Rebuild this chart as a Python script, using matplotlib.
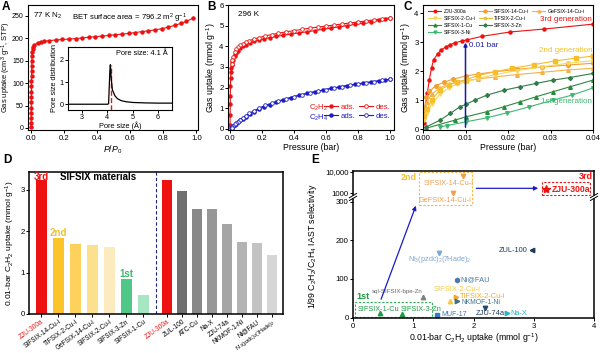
import numpy as np
import matplotlib
matplotlib.use("Agg")
import matplotlib.pyplot as plt
from matplotlib.lines import Line2D
from matplotlib.patches import Rectangle


# FONTS / STYLE

plt.rcParams["font.family"] = ["Liberation Sans", "DejaVu Sans"]
plt.rcParams["mathtext.fontset"] = "custom"
plt.rcParams["mathtext.rm"] = "Liberation Sans"
plt.rcParams["mathtext.it"] = "Liberation Sans:italic"
plt.rcParams["mathtext.bf"] = "Liberation Sans:bold"
plt.rcParams["font.size"] = 6
plt.rcParams["axes.linewidth"] = 0.8
plt.rcParams["xtick.major.size"] = 2
plt.rcParams["ytick.major.size"] = 2
plt.rcParams["xtick.major.width"] = 0.7
plt.rcParams["ytick.major.width"] = 0.7
plt.rcParams["xtick.major.pad"] = 1.5
plt.rcParams["ytick.major.pad"] = 1.2
plt.rcParams["xtick.labelsize"] = 5.6
plt.rcParams["ytick.labelsize"] = 5.6


# A: N2 ISOTHERM 77 K

a_p = [0.001, 0.001, 0.0015, 0.0015, 0.002, 0.002, 0.0025, 0.0025, 0.003, 0.003,
       0.0035, 0.004, 0.0045, 0.005, 0.006, 0.008, 0.011, 0.015, 0.02, 0.04,
       0.06, 0.08, 0.11, 0.15, 0.19, 0.23, 0.27, 0.31, 0.35, 0.39,
       0.43, 0.47, 0.51, 0.55, 0.59, 0.63, 0.67, 0.71, 0.75, 0.79,
       0.83, 0.87, 0.91, 0.94, 0.98]
a_n2 = [3, 12, 22, 33, 45, 57, 69, 81, 93, 105,
        117, 128, 139, 150, 160, 169, 176, 181, 185, 190,
        192, 193.5, 195, 196.5, 197.5, 198.5, 199.5, 201, 202.5, 204,
        205, 206.5, 208, 209.5, 211, 213, 215, 217, 219, 221.5,
        225, 229, 234, 238, 245]

psd_x = [2.45, 3.5, 4.0, 4.05, 4.08, 4.1, 4.12, 4.15, 4.2, 4.3, 4.4, 4.55, 4.75, 5.0, 5.5, 6.0, 6.55]
psd_y = [0.0, 0.0, 0.0, 0.02, 0.9, 1.5, 1.78, 1.2, 0.65, 0.38, 0.25, 0.16, 0.11, 0.08, 0.06, 0.05, 0.05]
pore_size = 4.13

# B: C2H2 / C2H4 ISOTHERMS 296 K

b_p_ads = [0.0005, 0.001, 0.0015, 0.002, 0.003, 0.004, 0.006, 0.008, 0.011, 0.015,
           0.02, 0.03, 0.04, 0.05, 0.065, 0.08, 0.1, 0.125, 0.15, 0.18,
           0.21, 0.25, 0.29, 0.33, 0.38, 0.43, 0.48, 0.53, 0.58, 0.63,
           0.68, 0.73, 0.78, 0.83, 0.88, 0.93, 0.97, 1.0]
b_c2h2_ads = [0.2, 0.7, 1.2, 1.6, 2.1, 2.45, 2.75, 2.95, 3.1, 3.25,
              3.35, 3.55, 3.68, 3.78, 3.9, 4.0, 4.08, 4.17, 4.24, 4.3,
              4.36, 4.42, 4.48, 4.53, 4.59, 4.65, 4.7, 4.76, 4.82, 4.88,
              4.94, 5.0, 5.06, 5.12, 5.18, 5.25, 5.3, 5.35]
b_p_des = [1.0, 0.95, 0.9, 0.85, 0.8, 0.75, 0.7, 0.65, 0.6, 0.55,
           0.5, 0.45, 0.4, 0.35, 0.3, 0.26, 0.22, 0.18, 0.15, 0.12,
           0.1, 0.08, 0.065, 0.05, 0.04, 0.03, 0.02, 0.015, 0.01]
b_c2h2_des = [5.38, 5.33, 5.28, 5.23, 5.18, 5.13, 5.08, 5.03, 4.98, 4.93,
              4.88, 4.82, 4.76, 4.7, 4.63, 4.57, 4.5, 4.42, 4.35, 4.27,
              4.2, 4.12, 4.05, 3.95, 3.85, 3.72, 3.5, 3.35, 3.15]
b_p_c2h4 = [0.005, 0.01, 0.02, 0.03, 0.04, 0.05, 0.065, 0.08, 0.1, 0.125,
            0.15, 0.18, 0.21, 0.25, 0.29, 0.33, 0.38, 0.43, 0.48, 0.53,
            0.58, 0.63, 0.68, 0.73, 0.78, 0.83, 0.88, 0.93, 0.97, 1.0]
b_c2h4_ads = [0.03, 0.06, 0.13, 0.2, 0.26, 0.32, 0.41, 0.5, 0.6, 0.72,
              0.83, 0.95, 1.06, 1.18, 1.3, 1.4, 1.52, 1.62, 1.72, 1.8,
              1.88, 1.96, 2.03, 2.1, 2.16, 2.22, 2.28, 2.33, 2.37, 2.4]
b_c2h4_des = [2.41, 2.35, 2.29, 2.23, 2.17, 2.11, 2.05, 1.98, 1.91, 1.83,
              1.75, 1.66, 1.57, 1.46, 1.35, 1.25, 1.14, 1.0, 0.88, 0.75,
              0.65, 0.55, 0.45, 0.36, 0.29, 0.22, 0.15, 0.11, 0.07]

# C: LOW PRESSURE C2H2 ISOTHERMS

zju_p = [0.0002, 0.0006, 0.001, 0.0015, 0.002, 0.0025, 0.0035, 0.0042, 0.0053, 0.0064,
         0.0076, 0.0092, 0.0104, 0.0139, 0.0205, 0.0284, 0.04]
zju_v = [0.2, 0.7, 1.25, 1.7, 2.1, 2.4, 2.6, 2.72, 2.83, 2.91,
         2.98, 3.04, 3.08, 3.2, 3.35, 3.45, 3.62]
sifsix14_p = [0.0003, 0.0008, 0.0015, 0.003, 0.005, 0.007, 0.01, 0.013, 0.017, 0.022, 0.028, 0.034, 0.04]
sifsix14_v = [0.7, 1.1, 1.3, 1.5, 1.62, 1.72, 1.83, 1.9, 1.98, 2.06, 2.14, 2.21, 2.27]
gefsix14_p = [0.0003, 0.001, 0.002, 0.004, 0.006, 0.008, 0.01, 0.013, 0.017, 0.022, 0.028, 0.034, 0.04]
gefsix14_v = [0.6, 0.95, 1.2, 1.42, 1.55, 1.62, 1.67, 1.73, 1.8, 1.88, 1.96, 2.04, 2.10]
sifsix2_p = [0.0003, 0.001, 0.002, 0.004, 0.006, 0.008, 0.01, 0.013, 0.017, 0.022, 0.028, 0.034, 0.04]
sifsix2_v = [0.3, 0.55, 0.85, 1.2, 1.42, 1.55, 1.62, 1.75, 1.88, 2.02, 2.15, 2.27, 2.36]
tifsix2_p = [0.0003, 0.001, 0.002, 0.004, 0.006, 0.008, 0.01, 0.013, 0.017, 0.021, 0.026, 0.031, 0.036, 0.04]
tifsix2_v = [0.45, 0.7, 1.0, 1.35, 1.52, 1.63, 1.70, 1.85, 1.98, 2.1, 2.22, 2.35, 2.45, 2.52]
sifsix1_p = [0.0007, 0.0075, 0.01, 0.015, 0.019, 0.0228, 0.0267, 0.0306, 0.0346, 0.04]
sifsix1_v = [0.03, 0.31, 0.42, 0.6, 0.77, 0.94, 1.12, 1.29, 1.46, 1.69]
sifsix3zn_p = [0.0007, 0.004, 0.0064, 0.0087, 0.01, 0.0122, 0.015, 0.019, 0.0228, 0.0267, 0.0306, 0.0346, 0.04]
sifsix3zn_v = [0.07, 0.31, 0.54, 0.77, 0.85, 1.0, 1.17, 1.34, 1.46, 1.58, 1.69, 1.78, 1.92]
sifsix3ni_p = [0.004, 0.0056, 0.01, 0.015, 0.0197, 0.025, 0.0306, 0.035, 0.04]
sifsix3ni_v = [0.08, 0.12, 0.25, 0.39, 0.56, 0.77, 1.0, 1.17, 1.42]

# D: 0.01 BAR UPTAKE BARS

d_left_names = ["ZJU-300a", "SIFSIX-14-Cu-i", "TIFSIX-2-Cu-i", "GeFSIX-14-Cu-i",
                "SIFSIX-2-Cu-i", "SIFSIX-3-Zn", "SIFSIX-1-Cu"]
d_left_vals = [3.23, 1.83, 1.70, 1.67, 1.62, 0.85, 0.45]
d_right_names = ["ZJU-300a", "ZUL-100", "ATC-Cu", "Na-X", "ZJU-74a", "NKMOF-1-Ni",
                 "Ni@FAU", "Ni$_3$(pzdc)$_2$(7Hade)$_2$"]
d_right_vals = [3.23, 2.96, 2.54, 2.53, 2.18, 1.73, 1.71, 1.42]

# E: SELECTIVITY VS UPTAKE

e_names = ["SIFSIX-1-Cu", "SIFSIX-3-Zn", "sql-SIFSIX-bpe-Zn", "MUF-17",
           "Ni$_3$(pzdc)$_2$(7Hade)$_2$", "SIFSIX-2-Cu-i", "TIFSIX-2-Cu-i",
           "NKMOF-1-Ni", "Ni@FAU", "ZJU-74a", "Na-X", "ZUL-100"]
e_uptake = [0.44, 0.82, 1.17, 1.40, 1.43, 1.61, 1.71, 1.73, 1.72, 2.19, 2.55, 2.97]
e_select = [11, 10, 53, 8, 167, 44, 54, 43, 97, 24, 11, 174]

e_top_names = ["GeFSIX-14-Cu-i", "SIFSIX-14-Cu-i", "ZJU-300a"]
e_top_uptake = [1.66, 1.83, 3.21]
e_top_select = [1000, 6330, 1580]


# FIGURE

fig = plt.figure(figsize=(6, 3.53), dpi=100)

red = "#ee1111"
blue = "#1b1bc8"


def panel_label(x, y, s):
    fig.text(x / 600, 1 - y / 353, s, fontsize=8.5, fontweight="bold", va="top", ha="left")


# ---------- A ----------
axA = fig.add_axes([28 / 600, 1 - 130 / 353, 170 / 600, 125 / 353])
axA.plot(a_p, a_n2, color=red, lw=0.8, marker="o", ms=2.2, mfc=red, mec=red)
axA.set_xlim(-0.018, 1.01)
axA.set_ylim(-4.5, 274.5)
axA.set_xticks([0, 0.2, 0.4, 0.6, 0.8, 1.0])
axA.set_xticklabels(["0.0", "0.2", "0.4", "0.6", "0.8", "1.0"])
axA.set_yticks([0, 50, 100, 150, 200, 250])
axA.tick_params(axis="y", labelsize=5.0, pad=1.0)
axA.set_xlabel("$P$/$P_0$", fontsize=6.3, labelpad=1)
axA.set_ylabel("Gas uptake (cm$^3$ g$^{-1}$, STP)", fontsize=5.4)
axA.yaxis.set_label_coords(-0.086, 0.5)
axA.text(0.03, 0.95, "77 K N$_2$", transform=axA.transAxes, ha="left", va="top", fontsize=5.8)
axA.text(0.26, 0.95, "BET surface area = 796.2 m$^2$ g$^{-1}$", transform=axA.transAxes,
         ha="left", va="top", fontsize=5.6)

axI = fig.add_axes([68 / 600, 1 - 110 / 353, 104 / 600, 63 / 353])
axI.axvline(pore_size, color=red, lw=1.0, ls="--", ymax=0.72)
axI.plot(psd_x, psd_y, color="black", lw=0.9)
axI.set_xlim(2.45, 6.55)
axI.set_ylim(-0.26, 2.58)
axI.set_xticks([3, 4, 5, 6])
axI.set_yticks([0, 1, 2])
axI.tick_params(labelsize=5.2, pad=1)
axI.set_xlabel("Pore size (Å)", fontsize=5.3, labelpad=0)
axI.set_ylabel("Pore size distribution", fontsize=5.3, labelpad=1)
axI.text(0.96, 0.96, "Pore size: 4.1 Å", transform=axI.transAxes, ha="right", va="top", fontsize=5.3)


# ---------- B ----------
axB = fig.add_axes([228 / 600, 1 - 130 / 353, 166 / 600, 125 / 353])
h1, = axB.plot(b_p_ads, b_c2h2_ads, color=red, lw=0.8, marker="o", ms=2.2, mfc=red, mec=red)
h2, = axB.plot(b_p_des, b_c2h2_des, color=red, lw=0.8, marker="o", ms=2.6, mfc="white", mec=red, mew=0.6)
h3, = axB.plot(b_p_c2h4, b_c2h4_ads, color=blue, lw=0.8, marker="o", ms=2.2, mfc=blue, mec=blue)
h4, = axB.plot(b_p_des, b_c2h4_des, color=blue, lw=0.8, marker="o", ms=2.6, mfc="white", mec=blue, mew=0.6)
axB.set_xlim(-0.0125, 1.025)
axB.set_ylim(-0.05, 6)
axB.set_xticks([0, 0.2, 0.4, 0.6, 0.8, 1.0])
axB.set_xticklabels(["0.0", "0.2", "0.4", "0.6", "0.8", "1.0"])
axB.set_yticks([0, 1, 2, 3, 4, 5, 6])
axB.set_xlabel("Pressure (bar)", fontsize=6.3, labelpad=1)
axB.set_ylabel("Gas uptake (mmol g$^{-1}$)", fontsize=6.3, labelpad=1)
axB.text(0.06, 0.95, "296 K", transform=axB.transAxes, ha="left", va="top", fontsize=5.8)
legB = axB.legend([h1, h3, h2, h4], ["ads.", "ads.", "des.", "des."], ncol=2, loc="lower right",
                  bbox_to_anchor=(1.01, 0.04), frameon=False, fontsize=5.6, handlelength=1.8,
                  handletextpad=0.3, columnspacing=0.5, labelspacing=0.15, borderpad=0.2)
for t, c in zip(legB.get_texts(), [red, blue, red, blue]):
    t.set_color(c)
axB.text(0.49, 0.175, "C$_2$H$_2$", transform=axB.transAxes, color=red, fontsize=5.6, va="center")
axB.text(0.49, 0.095, "C$_2$H$_4$", transform=axB.transAxes, color=blue, fontsize=5.6, va="center")


# ---------- C ----------
axC = fig.add_axes([423 / 600, 1 - 130 / 353, 170 / 600, 125 / 353])
c_zju = "#ee1111"
c_s14 = "#f0a030"
c_ge14 = "#f3b24a"
c_s2 = "#f9d65a"
c_ti2 = "#f6be2a"
c_s1 = "#2b8a3e"
c_s3zn = "#2e7d46"
c_s3ni = "#3fb871"
kw = dict(lw=0.8, ms=2.6)
l_zju, = axC.plot(zju_p, zju_v, color=c_zju, marker="o", ms=2.2, lw=0.8, label="ZJU-300a")
l_s14, = axC.plot(sifsix14_p, sifsix14_v, color=c_s14, marker="o", label="SIFSIX-14-Cu-i", **kw)
l_ge14, = axC.plot(gefsix14_p, gefsix14_v, color=c_ge14, marker="^", label="GeFSIX-14-Cu-i", **kw)
l_s2, = axC.plot(sifsix2_p, sifsix2_v, color=c_s2, marker="v", label="SIFSIX-2-Cu-i", **kw)
l_ti2, = axC.plot(tifsix2_p, tifsix2_v, color=c_ti2, marker="s", label="TIFSIX-2-Cu-i", **kw)
l_s1, = axC.plot(sifsix1_p, sifsix1_v, color=c_s1, marker="^", label="SIFSIX-1-Cu", **kw)
l_s3zn, = axC.plot(sifsix3zn_p, sifsix3zn_v, color=c_s3zn, marker="D", label="SIFSIX-3-Zn", lw=0.8, ms=2.0)
l_s3ni, = axC.plot(sifsix3ni_p, sifsix3ni_v, color=c_s3ni, marker="v", label="SIFSIX-3-Ni", **kw)
axC.set_xlim(0, 0.04)
axC.set_ylim(-0.03, 4.28)
axC.set_xticks([0, 0.01, 0.02, 0.03, 0.04])
axC.set_xticklabels(["0.00", "0.01", "0.02", "0.03", "0.04"])
axC.set_yticks([0, 1, 2, 3, 4])
axC.set_xlabel("Pressure (bar)", fontsize=6.3, labelpad=1)
axC.set_ylabel("Gas uptake (mmol g$^{-1}$)", fontsize=6.3, labelpad=1)
axC.annotate("", xy=(0.01, zju_v[12]), xytext=(0.01, -0.03),
             arrowprops=dict(arrowstyle="-|>", color="#1a1aa8", lw=1.1, mutation_scale=5))
axC.text(0.0108, 2.9, "0.01 bar", color="#1a1aa8", fontsize=5.8, va="center")
axC.text(0.0398, 3.78, "3rd generation", color=red, fontsize=5.8, ha="right", va="center")
axC.text(0.0398, 2.72, "2nd generation", color="#f2c12e", fontsize=5.8, ha="right", va="center")
axC.text(0.0398, 0.95, "1st generation", color="#3fb871", fontsize=5.8, ha="right", va="center")
blank = Line2D([], [], ls="none")
legC = axC.legend([l_zju, l_s2, l_s1, l_s3ni, l_s14, l_ti2, l_s3zn, blank, l_ge14, blank, blank, blank],
                  ["ZJU-300a", "SIFSIX-2-Cu-i", "SIFSIX-1-Cu", "SIFSIX-3-Ni",
                   "SIFSIX-14-Cu-i", "TIFSIX-2-Cu-i", "SIFSIX-3-Zn", "",
                   "GeFSIX-14-Cu-i", "", "", ""],
                  ncol=3, loc="upper left", bbox_to_anchor=(0.005, 1.0), frameon=False, fontsize=3.7,
                  handlelength=2.6, handletextpad=0.4, columnspacing=0.6, labelspacing=0.35,
                  borderpad=0.3, markerscale=0.8)


# ---------- D ----------
axD = fig.add_axes([29 / 600, 1 - 314 / 353, 254 / 600, 142 / 353])
left_pos = np.arange(len(d_left_vals))
right_pos = 7.376 + 0.882 * np.arange(len(d_right_vals))
left_colors = [red, "#fdc42a", "#fdd15c", "#fde08e", "#fdebc0", "#4fc787", "#a6e6c3"]
right_colors = [red, "#6f6f6f", "#888888", "#979797", "#a5a5a5", "#b3b3b3", "#c3c3c3", "#d6d6d6"]
axD.bar(left_pos, d_left_vals, width=0.65, color=left_colors)
axD.bar(right_pos, d_right_vals, width=0.59, color=right_colors)
axD.axvline(6.75, color="#1a237e", ls=(0, (3, 2)), lw=0.8)
axD.set_xlim(-0.72, 14.2)
axD.set_ylim(0, 3.43)
axD.set_yticks([0, 1, 2, 3])
axD.set_xticks(list(left_pos) + list(right_pos))
axD.set_xticklabels(d_left_names + d_right_names, rotation=36, ha="right", rotation_mode="anchor",
                    fontsize=4.7)
axD.tick_params(axis="x", pad=1.0)
for i, lab in enumerate(axD.get_xticklabels()):
    if lab.get_text() == "ZJU-300a":
        lab.set_color(red)
    if "pzdc" in lab.get_text():
        lab.set_fontsize(3.9)
axD.set_ylabel("0.01-bar C$_2$H$_2$ uptake (mmol g$^{-1}$)", fontsize=6.1, labelpad=2)
axD.text(left_pos[0], 3.3, "3rd", color=red, fontsize=7, fontweight="bold", ha="center", va="center")
axD.text(1.1, 3.3, "SIFSIX materials", color="black", fontsize=7, fontweight="bold", ha="left", va="center")
axD.text(left_pos[1], 1.95, "2nd", color="#f2c12e", fontsize=7, fontweight="bold", ha="center", va="center")
axD.text(left_pos[5], 0.96, "1st", color="#3fb871", fontsize=7, fontweight="bold", ha="center", va="center")
for s in axD.spines.values():
    s.set_linewidth(1.1)


# ---------- E ----------
axE = fig.add_axes([353 / 600, 1 - 318 / 353, 241 / 600, 119 / 353])
axEu = fig.add_axes([353 / 600, 1 - 195 / 353, 241 / 600, 24 / 353])

e_markers = ["^", "^", "^", "s", "v", "^", ">", ">", "h", "v", ">", "<"]
e_colors = ["#1f9a45", "#1f9a45", "#808080", "#3c78c0", "#7fa8d2", "#f6c945", "#f0a830",
            "#3f7088", "#4a7aa8", "#1f4a6e", "#2ab4c8", "#1f3a5a"]
e_label_colors = ["#1f9a45", "#1f9a45", "#666666", "#3c78c0", "#7fa8d2", "#f6c945", "#f0a830",
                  "#3f7088", "#4a7aa8", "#1f3a5a", "#2ab4c8", "#1f3a5a"]
e_label_sizes = [5.3, 5.3, 4.4, 5.0, 5.2, 5.4, 5.3, 4.9, 5.4, 5.4, 5.3, 5.3]
# label offsets in points and alignment
e_offsets = [(-1, 3.0, "center"), (13.5, 3.0, "center"), (-1, 4.0, "right"), (3, 0, "left"),
             (0, -4.8, "center"), (-12, 7.8, "left"), (3, 0.3, "left"), (3, -1.2, "left"),
             (3, 0, "left"), (4, -3.8, "center"), (3, 0, "left"), (-3, 0, "right")]
for x, y, n, m, c, lc, fs, off in zip(e_uptake, e_select, e_names, e_markers, e_colors,
                                      e_label_colors, e_label_sizes, e_offsets):
    axE.plot(x, y, marker=m, color=c, ms=3.2, ls="none")
    axE.annotate(n, (x, y), xytext=off[:2], textcoords="offset points", ha=off[2], va="center",
                 color=lc, fontsize=fs)

top_markers = ["v", "v", "*"]
top_colors = ["#f0a050", "#f0a040", red]
top_sizes = [3.2, 3.2, 6]
top_offsets = [(-6, -5.3, "center"), (-10.8, -5.3, "center"), (4, 0, "left")]
for x, y, n, m, c, sz, off in zip(e_top_uptake, e_top_select, e_top_names, top_markers, top_colors,
                                  top_sizes, top_offsets):
    axEu.plot(x, y, marker=m, color=c, ms=sz, ls="none", clip_on=False)
    bold = "bold" if n == "ZJU-300a" else "normal"
    axEu.annotate(n, (x, y), xytext=off[:2], textcoords="offset points", ha=off[2], va="center",
                  color=(red if n == "ZJU-300a" else "#f0a050"), fontsize=(6.2 if n == "ZJU-300a" else 5.3),
                  fontweight=bold, annotation_clip=False)

axE.set_xlim(0, 4)
axE.set_ylim(-0.8, 306.7)
axE.set_xticks([0, 1, 2, 3, 4])
axE.set_yticks([0, 100, 200, 300])
axE.spines["top"].set_visible(False)
axE.set_xlabel("0.01-bar C$_2$H$_2$ uptake (mmol g$^{-1}$)", fontsize=6.3, labelpad=1)

axEu.set_yscale("log")
axEu.set_xlim(0, 4)
axEu.set_ylim(834, 10770)
axEu.set_yticks([1000, 10000])
axEu.set_yticklabels(["1000", "10,000"])
axEu.yaxis.set_minor_locator(matplotlib.ticker.NullLocator())
axEu.set_xticks([])
axEu.spines["bottom"].set_visible(False)
for ax in (axE, axEu):
    for s in ax.spines.values():
        s.set_linewidth(1.1)

# break marks
for xb in (0, 1):
    for dy in (-0.004, 0.004):
        fig.add_artist(Line2D([353 / 600 + xb * 241 / 600 - 0.006, 353 / 600 + xb * 241 / 600 + 0.006],
                              [1 - 197 / 353 + dy - 0.006, 1 - 197 / 353 + dy + 0.006],
                              color="black", lw=0.7))

fig.text(313 / 600, 1 - 246 / 353, "1/99 C$_2$H$_2$/C$_2$H$_4$ IAST selectivity", rotation=90,
         fontsize=6.3, ha="center", va="center")

# boxes and arrows
axE.add_patch(Rectangle((0.03, 1), 1.28, 40, fill=False, ec="#2fae5a", ls=(0, (2, 1.5)), lw=0.8))
axE.text(0.06, 54, "1st", color="#1f9a45", fontsize=6.5, fontweight="bold", ha="left", va="center")
axE.annotate("", xy=(1.06, 296), xytext=(0.45, 41),
             arrowprops=dict(arrowstyle="-|>", color=blue, lw=0.9, mutation_scale=6), annotation_clip=False)
axEu.add_patch(Rectangle((1.1, 287), 0.88, 10000 - 287, fill=False, ec="#f5b942", ls=(0, (2, 1.5)),
                         lw=0.8, clip_on=False))
axEu.text(1.05, 5500, "2nd", color="#f2c12e", fontsize=6.5, fontweight="bold", ha="right", va="center")
axEu.add_patch(Rectangle((3.13, 835), 0.81, 3230 - 835, fill=False, ec=red, ls=(0, (2, 1.5)),
                         lw=0.8, clip_on=False))
axEu.text(3.98, 5870, "3rd", color=red, fontsize=6.5, fontweight="bold", ha="right", va="center")
axEu.annotate("", xy=(3.12, 1700), xytext=(2.0, 1700),
              arrowprops=dict(arrowstyle="-|>", color=blue, lw=0.9, mutation_scale=6), annotation_clip=False)


# PANEL LABELS

panel_label(2, 1, "A")
panel_label(207, 1, "B")
panel_label(403, 1, "C")
panel_label(3, 154, "D")
panel_label(311, 154, "E")

fig.savefig("out.png", dpi=100)
